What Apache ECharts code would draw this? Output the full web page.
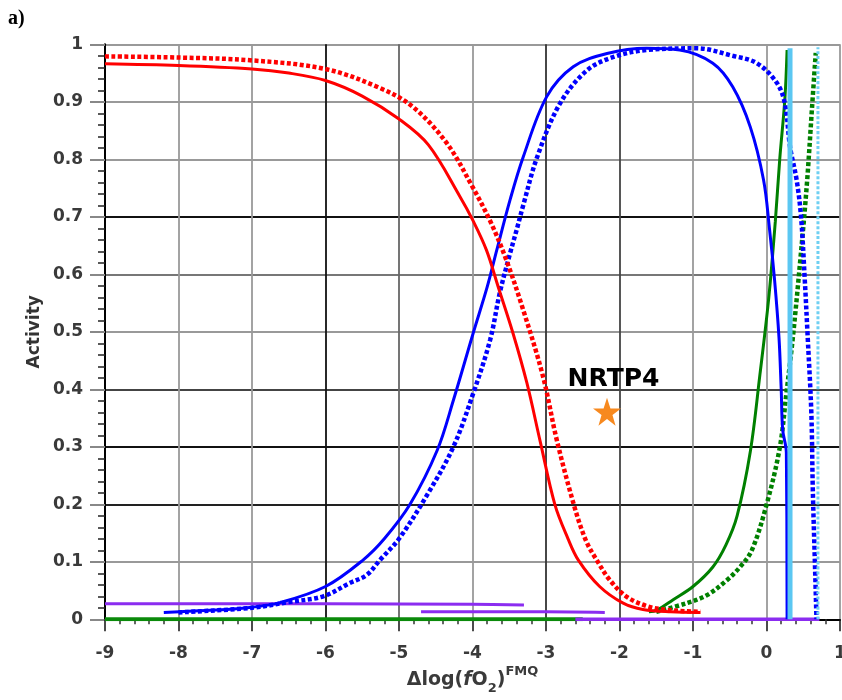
<!DOCTYPE html>
<html><head><meta charset="utf-8">
<script src="https://cdn.jsdelivr.net/npm/echarts/dist/echarts.min.js"></script>
<style>html,body{margin:0;padding:0;background:#fff}#c{width:842px;height:700px}</style>
</head><body><div id="c"></div>
<script>
// ---- data ----
const xRange = [-9, 1];
const yRange = [0, 1];
const redSolid = [[-9,0.966],[-8,0.963],[-7,0.957],[-6.5,0.95],[-6,0.937],[-5.5,0.91],[-5.0,0.87],[-4.6,0.825],[-4.17,0.735],[-4.0,0.695],[-3.81,0.642],[-3.65,0.578],[-3.45,0.498],[-3.26,0.411],[-3.08,0.31],[-2.88,0.2],[-2.7,0.14],[-2.56,0.103],[-2.27,0.057],[-1.95,0.028],[-1.68,0.017],[-1.3,0.013],[-0.9,0.012]];
const redDashed = [[-9,0.979],[-8,0.977],[-7,0.972],[-6,0.957],[-5.26,0.924],[-4.81,0.891],[-4.35,0.828],[-4.0,0.752],[-3.75,0.69],[-3.54,0.625],[-3.31,0.538],[-3.04,0.422],[-2.85,0.31],[-2.6,0.19],[-2.45,0.135],[-2.31,0.103],[-2.13,0.068],[-1.9,0.039],[-1.63,0.023],[-1.4,0.017],[-1.1,0.014],[-0.9,0.013]];
const blueSolid = [[-8.2,0.012],[-7.5,0.016],[-7,0.021],[-6.62,0.029],[-6.0,0.057],[-5.49,0.103],[-5.2,0.14],[-4.85,0.2],[-4.48,0.294],[-4.26,0.381],[-3.99,0.498],[-3.80,0.578],[-3.67,0.642],[-3.49,0.729],[-3.31,0.804],[-2.99,0.909],[-2.63,0.961],[-2.17,0.984],[-1.63,0.993],[-1.18,0.99],[-0.73,0.967],[-0.46,0.926],[-0.22,0.856],[-0.04,0.764],[0.04,0.68],[0.11,0.59],[0.17,0.49],[0.2,0.4],[0.22,0.33],[0.27,0.29],[0.28,0.0]];
const blueDashed = [[-8,0.012],[-7,0.02],[-6.5,0.03],[-6.03,0.04],[-5.67,0.063],[-5.44,0.077],[-5.26,0.103],[-5.0,0.14],[-4.6,0.22],[-4.26,0.30],[-3.99,0.393],[-3.76,0.486],[-3.63,0.567],[-3.49,0.636],[-3.40,0.677],[-3.31,0.72],[-3.12,0.804],[-2.81,0.897],[-2.44,0.955],[-2.08,0.978],[-1.63,0.99],[-0.95,0.993],[-0.46,0.98],[-0.13,0.967],[0.14,0.933],[0.25,0.897],[0.32,0.822],[0.41,0.764],[0.47,0.70],[0.52,0.592],[0.56,0.492],[0.61,0.359],[0.63,0.225],[0.66,0.092],[0.68,0.0]];
const greenSolid = [[-1.6,0.013],[-1.49,0.016],[-1.27,0.034],[-1.0,0.057],[-0.73,0.091],[-0.55,0.13],[-0.40,0.18],[-0.22,0.292],[-0.09,0.425],[0.03,0.558],[0.12,0.692],[0.18,0.8],[0.25,0.905],[0.28,0.99]];
const greenDashed = [[-1.5,0.013],[-1.09,0.028],[-0.81,0.042],[-0.54,0.068],[-0.36,0.091],[-0.2,0.12],[0.0,0.199],[0.18,0.298],[0.27,0.392],[0.36,0.492],[0.46,0.625],[0.55,0.758],[0.62,0.891],[0.67,0.985]];
const greenBase = [[-9,0],[-2.5,0]];
const cyanSolid = [[0.32,0],[0.32,0.993]];
const cyanDashed = [[0.70,0],[0.70,0.995]];
const purpleUpper = [[-9,0.027],[-6,0.027],[-4,0.026],[-3.3,0.025]];
const purpleLower = [[-4.7,0.013],[-3,0.013],[-2.2,0.012]];
const purpleBase = [[-2.6,0],[0.72,0]];
const sample = [[-2.17,0.361]];
const sampleName = 'NRTP4';
const xGridColors = ['#999','#999','#999','#111','#666','#999','#333','#444','#999','#999','#999'];
const yGridColors = ['#999','#999','#222','#111','#444','#999','#777','#111','#999','#999','#999'];

const FONT = 'DejaVu Sans';
const chart = echarts.init(document.getElementById('c'));
function ln(data, color, width, type, z) {
  return {type:'line', data:data, symbol:'none', showSymbol:false, smooth:0.35,
    lineStyle:{color:color, width:width, type:type, cap:'butt'}, z:z, silent:true};
}
const DASH = [4,2.5];
const star = 'path://M50,0 L61.8,35.1 L98.1,35.1 L68.8,56.7 L79.4,91.9 L50,70.2 L20.6,91.9 L31.2,56.7 L1.9,35.1 L38.2,35.1 Z';
chart.setOption({
  animation:false,
  backgroundColor:'#fff',
  title:{text:'a)', left:8, top:9, padding:0, textStyle:{fontFamily:'Liberation Serif', fontWeight:'bold', fontSize:20, color:'#000'}},
  grid:{left:105, right:2, top:44.3, bottom:80.7, outerBoundsMode:'none', containLabel:false},
  xAxis:{type:'value', min:xRange[0], max:xRange[1], interval:1,
    axisLine:{show:true, onZero:false, lineStyle:{color:'#000', width:2}},
    axisTick:{show:true, length:12, lineStyle:{color:'#111', width:1.5}},
    minorTick:{show:true, splitNumber:5, length:5, lineStyle:{color:'#333', width:1.5}},
    splitLine:{show:true, lineStyle:{color:xGridColors, width:1.8}},
    axisLabel:{margin:26, fontFamily:FONT, fontWeight:'bold', fontSize:17, color:'#3a3a3a', formatter:v=>String(Math.round(v))},
    name:'{m|Δlog(}{i|f}{m|O}{sub|2}{m|)}{sup|FMQ}', nameLocation:'middle', nameGap:46, nameMoveOverlap:false,
    nameTextStyle:{rich:{
      m:{fontFamily:FONT, fontWeight:'bold', fontSize:19, color:'#3a3a3a', lineHeight:30, verticalAlign:'middle'},
      i:{fontFamily:FONT, fontWeight:'bold', fontStyle:'italic', fontSize:19, color:'#3a3a3a', lineHeight:30, verticalAlign:'middle'},
      sub:{fontFamily:FONT, fontWeight:'bold', fontSize:13, color:'#3a3a3a', lineHeight:13, verticalAlign:'bottom'},
      sup:{fontFamily:FONT, fontWeight:'bold', fontSize:13, color:'#3a3a3a', lineHeight:13, verticalAlign:'top'}
    }}
  },
  yAxis:{type:'value', min:yRange[0], max:yRange[1], interval:0.1,
    axisLine:{show:true, onZero:false, lineStyle:{color:'#000', width:2}},
    axisTick:{show:true, length:15, lineStyle:{color:'#888', width:2}},
    minorTick:{show:true, splitNumber:5, length:7, lineStyle:{color:'#222', width:1.5}},
    splitLine:{show:true, lineStyle:{color:yGridColors, width:1.8}},
    axisLabel:{margin:22, fontFamily:FONT, fontWeight:'bold', fontSize:17, color:'#3a3a3a', formatter:v=>String(+v.toFixed(1))},
    name:'Activity', nameLocation:'middle', nameGap:62, nameMoveOverlap:false,
    nameTextStyle:{fontFamily:FONT, fontWeight:'bold', fontSize:17, color:'#333'}
  },
  series:[
    ln(greenBase,'#0a8a0a',4,'solid',2),
    ln(purpleUpper,'#8b2cf0',3,'solid',2),
    ln(purpleLower,'#8b2cf0',3,'solid',2),
    ln(purpleBase,'#8b2cf0',3.5,'solid',2),
    ln(greenDashed,'#008000',4.5,DASH,3),
    ln(greenSolid,'#008000',3,'solid',3),
    ln(blueDashed,'#0000ff',4.5,DASH,4),
    ln(blueSolid,'#0000ff',3,'solid',4),
    ln(redDashed,'#ff0000',4.5,DASH,5),
    ln(redSolid,'#ff0000',3,'solid',5),
    ln(cyanDashed,'#6fd0f2',3,[3,2],6),
    ln(cyanSolid,'#5bc7f2',5,'solid',6),
    {type:'scatter', data:sample, symbol:star, symbolSize:28, itemStyle:{color:'#f7891f', opacity:1}, z:7, silent:true,
     label:{show:true, position:'inside', offset:[6.5,-32.5], formatter:()=>sampleName, opacity:1,
       fontFamily:FONT, fontWeight:'bold', fontSize:25, color:'#000'}}
  ]
});
</script>
</body></html>
